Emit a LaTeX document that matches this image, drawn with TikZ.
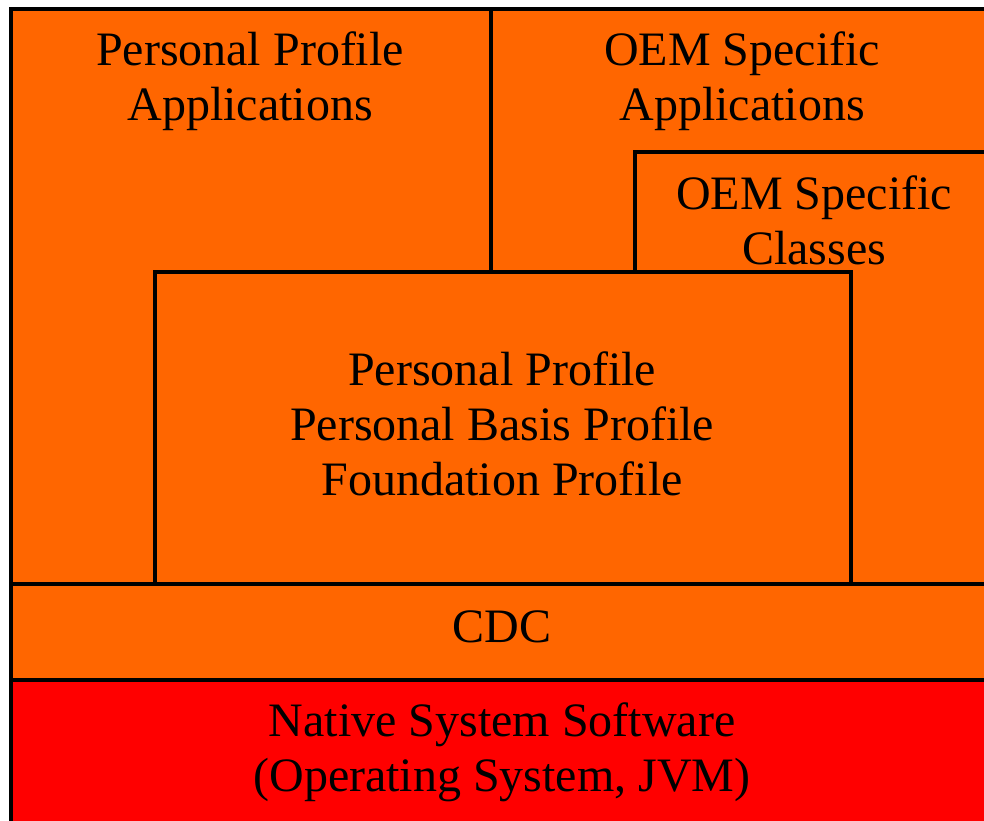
\documentclass[tikz,border=0pt]{standalone}
\usepackage{fontspec}
\setmainfont{Liberation Serif}
\definecolor{boxorange}{HTML}{FF6600}
\definecolor{boxred}{HTML}{FF0000}
\begin{document}
\begin{tikzpicture}[x=1pt,y=-1pt,
  edge/.style={line width=4pt,black},
  lbl/.style={align=center,font=\fontsize{48}{55}\selectfont,inner sep=0pt}]
\useasboundingbox (0,0) rectangle (984,820);
\clip (0,0) rectangle (984,820);
% fills
\fill[boxorange] (11,9) rectangle (1000,680);
\fill[boxred] (11,680) rectangle (1000,840);
% outlines
\draw[edge] (11,840) -- (11,9) -- (1000,9);
\draw[edge] (491,9) -- (491,272);
\draw[edge] (635,272) -- (635,152) -- (1000,152);
\draw[edge] (155,584) -- (155,272) -- (851,272) -- (851,584);
\draw[edge] (11,584) -- (1000,584);
\draw[edge] (11,680) -- (1000,680);
% labels
\node[lbl] (ppa) at (250,81) {Personal Profile\\Applications};
\node[lbl] (oema) at (742,81) {OEM Specific\\Applications};
\node[lbl] (oemc) at (814,220) {OEM Specific\\Classes};
\node[lbl] (pp) at (502,424) {Personal Profile\\Personal Basis Profile\\Foundation Profile};
\node[lbl] (cdc) at (502,627) {CDC};
\node[lbl] (nss) at (502,752) {Native System Software\\(Operating System, JVM)};
\end{tikzpicture}
\end{document}
